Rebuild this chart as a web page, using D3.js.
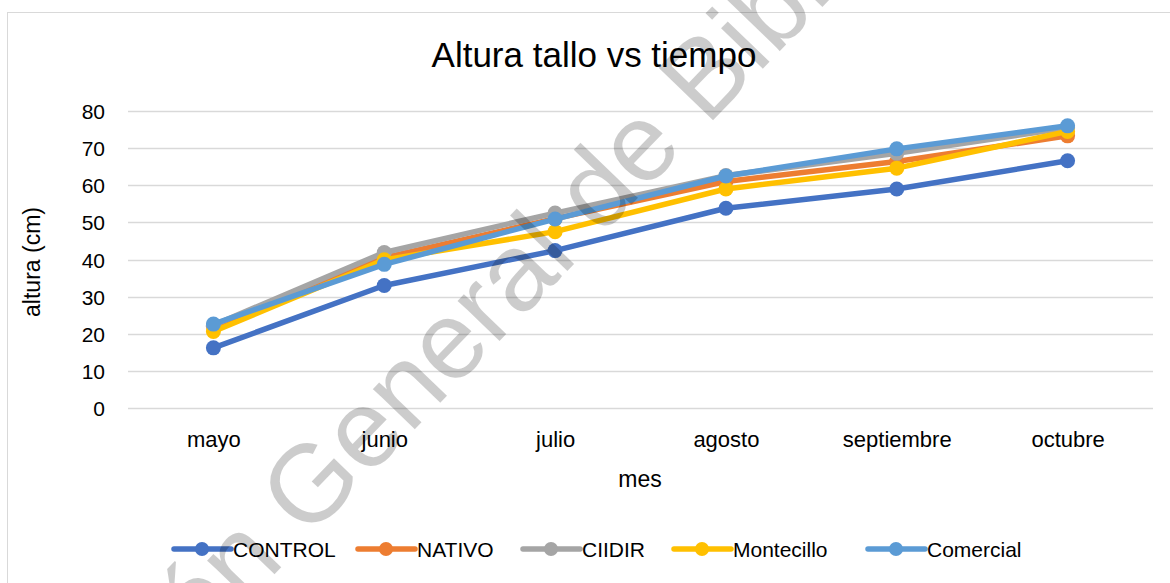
<!DOCTYPE html>
<meta charset="utf-8">
<style>
  body { margin: 0; background: #fff; }
  text { font-family: "Liberation Sans", Arial, sans-serif; fill: #000; }
  .grid line { stroke: #d9d9d9; stroke-width: 1.3px; }
</style>
<body>
<svg width="1170" height="583"></svg>
<script src="https://d3js.org/d3.v7.min.js"></script>
<script>
    // months on the x axis
    let meses = ["mayo", "junio", "julio", "agosto", "septiembre", "octubre"];
    let yTicks = [0, 10, 20, 30, 40, 50, 60, 70, 80];

    // stem height (cm) per treatment
    let control    = [16.2, 33.0, 42.4, 53.8, 59.0, 66.6];
    let nativo     = [22.0, 40.5, 51.0, 61.0, 66.4, 73.3];
    let ciidir     = [22.3, 41.9, 52.5, 62.6, 68.6, 75.5];
    let montecillo = [20.6, 39.9, 47.5, 59.0, 64.6, 74.5];
    let comercial  = [22.6, 38.7, 50.9, 62.5, 69.8, 76.0];

    let seriesNames = ["CONTROL", "NATIVO", "CIIDIR", "Montecillo", "Comercial"];
    let seriesColors = ["#4472c4", "#ed7d31", "#a5a5a5", "#ffc000", "#5b9bd5"];
    let seriesValues = [control, nativo, ciidir, montecillo, comercial];

    var svg = d3.select("svg");

    svg.append("rect")
        .attr("x", 7.5).attr("y", 12.5)
        .attr("width", 1175).attr("height", 600)
        .attr("fill", "#fff")
        .attr("stroke", "#d9d9d9");

    var x = d3.scalePoint().domain(meses).range([128, 1153]).padding(0.5);
    var y = d3.scaleLinear().domain([0, 80]).range([408, 111]);

    // gridlines
    svg.append("g")
        .attr("class", "grid")
        .selectAll("line")
        .data(yTicks)
        .enter().append("line")
            .attr("x1", 128).attr("x2", 1153)
            .attr("y1", d => Math.round(y(d)) + 0.5)
            .attr("y2", d => Math.round(y(d)) + 0.5);

    // y axis labels
    var yAxis = d3.axisLeft(y).tickValues(yTicks).tickSize(0).tickPadding(0);
    var gy = svg.append("g").attr("transform", "translate(105,0)").call(yAxis);
    gy.select(".domain").remove();
    gy.selectAll("text")
        .style("font-size", "21px")
        .attr("font-family", null)
        .attr("dy", "0.36em");

    // x axis labels
    var xAxis = d3.axisBottom(x).tickSize(0).tickPadding(0);
    var gx = svg.append("g").attr("transform", "translate(0,447)").call(xAxis);
    gx.select(".domain").remove();
    gx.selectAll("text")
        .style("font-size", "22px")
        .attr("font-family", null)
        .attr("dy", 0)
        .attr("y", 0);

    // title and axis titles
    svg.append("text")
        .attr("x", 594).attr("y", 67)
        .attr("text-anchor", "middle")
        .style("font-size", "35px")
        .text("Altura tallo vs tiempo");

    svg.append("text")
        .attr("x", 640).attr("y", 487)
        .attr("text-anchor", "middle")
        .style("font-size", "23px")
        .text("mes");

    svg.append("text")
        .attr("transform", "translate(40,262) rotate(-90)")
        .attr("text-anchor", "middle")
        .style("font-size", "23px")
        .text("altura (cm)");

    // series
    var line = d3.line()
        .x((d, i) => x(meses[i]))
        .y(d => y(d));

    var series = svg.append("g")
        .selectAll("g")
        .data(seriesValues)
        .enter().append("g");

    series.append("path")
        .attr("d", d => line(d))
        .attr("fill", "none")
        .attr("stroke", (d, i) => seriesColors[i])
        .attr("stroke-width", 5.5)
        .attr("stroke-linejoin", "round")
        .attr("stroke-linecap", "round");

    series.each(function(vals, i) {
        d3.select(this).selectAll("circle")
            .data(vals)
            .enter().append("circle")
                .attr("cx", (d, j) => x(meses[j]))
                .attr("cy", d => y(d))
                .attr("r", 7.5)
                .attr("fill", seriesColors[i]);
    });

    // legend
    let legendX = [174, 358, 523, 674, 868];
    var legend = svg.append("g")
        .selectAll("g")
        .data(seriesNames)
        .enter().append("g")
            .attr("transform", (d, i) => "translate(" + legendX[i] + ",549)");

    legend.append("line")
        .attr("x1", 0).attr("x2", 57)
        .attr("stroke", (d, i) => seriesColors[i])
        .attr("stroke-width", 5.5)
        .attr("stroke-linecap", "round");
    legend.append("circle")
        .attr("cx", 28).attr("r", 7)
        .attr("fill", (d, i) => seriesColors[i]);
    legend.append("text")
        .attr("x", 59).attr("dy", "0.36em")
        .style("font-size", "21px")
        .text(d => d);

    // watermark
    svg.append("text")
        .attr("transform", "translate(522,318) rotate(-46)")
        .attr("text-anchor", "middle")
        .style("font-size", "110px")
        .style("fill", "#000")
        .style("fill-opacity", 0.2)
        .text("Dirección General de Bibliotecas");
</script>
</body>
